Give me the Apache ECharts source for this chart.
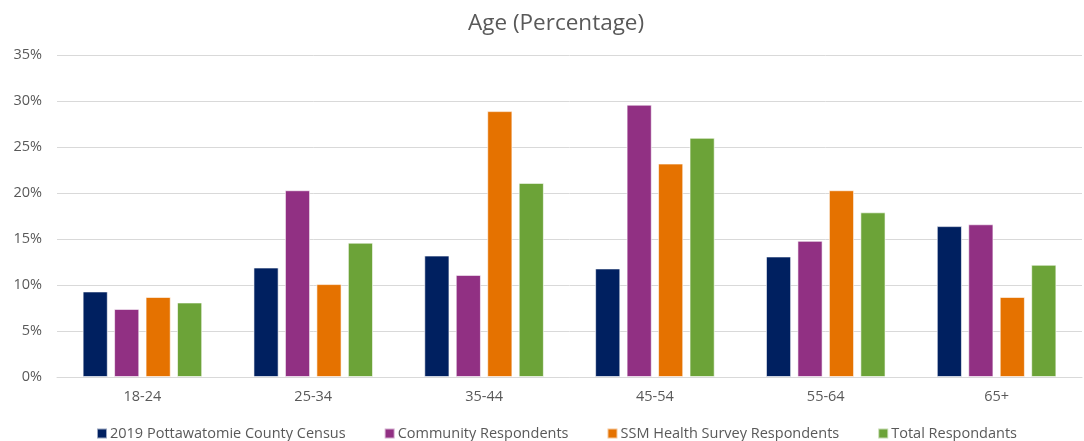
<!DOCTYPE html>
<html>
<head>
<meta charset="utf-8">
<script src="https://cdn.jsdelivr.net/npm/echarts@6/dist/echarts.min.js"></script>
<style>
  html, body { margin: 0; padding: 0; background: #fff; }
  #chart { width: 1084px; height: 441px; }
</style>
</head>
<body>
<div id="chart"></div>
<script>
// Age groups on the category axis
const categories = ['18-24', '25-34', '35-44', '45-54', '55-64', '65+'];

// Share of each group, in percent
const census2019 = [9.3, 11.9, 13.2, 11.8, 13.1, 16.4];
const community = [7.4, 20.3, 11.1, 29.6, 14.8, 16.6];
const ssmHealth = [8.7, 10.1, 28.9, 23.2, 20.3, 8.7];
const totalResp = [8.1, 14.6, 21.1, 26.0, 17.9, 12.2];

const seriesNames = [
  '2019 Pottawatomie County Census',
  'Community Respondents',
  'SSM Health Survey Respondents',
  'Total Respondants'
];
const seriesData = [census2019, community, ssmHealth, totalResp];
const colors = ['#002060', '#913083', '#E57200', '#6CA338'];

const font = '"Open Sans", sans-serif';
const textGray = '#595959';

const chart = echarts.init(document.getElementById('chart'));
chart.setOption({
  animation: false,
  color: colors,
  title: {
    text: 'Age (Percentage)',
    left: 463,
    top: 7,
    textStyle: { fontFamily: font, fontSize: 22.5, fontWeight: 'normal', color: textGray }
  },
  grid: { left: 57, right: 2, top: 55, bottom: 64 },
  legend: {
    top: 421,
    left: 91,
    itemWidth: 10,
    itemHeight: 10,
    itemGap: 38,
    icon: 'rect',
    textStyle: { fontFamily: font, fontSize: 14.5, color: textGray, padding: [0, 0, 0, -2] }
  },
  xAxis: {
    type: 'category',
    data: categories,
    axisTick: { show: false },
    axisLine: { lineStyle: { color: '#D9D9D9' } },
    axisLabel: { fontFamily: font, fontSize: 14.5, color: textGray, margin: 12 }
  },
  yAxis: {
    type: 'value',
    min: 0,
    max: 35,
    interval: 5,
    axisLabel: {
      formatter: '{value}%',
      fontFamily: font,
      fontSize: 14.5,
      color: textGray,
      margin: 15
    },
    splitLine: { lineStyle: { color: '#D9D9D9' } }
  },
  series: seriesNames.map((name, i) => ({
    name,
    type: 'bar',
    data: seriesData[i],
    barGap: '25%',
    barCategoryGap: '30%',
    itemStyle: { borderColor: 'rgba(255,255,255,0.6)', borderWidth: 1 }
  }))
});
</script>
</body>
</html>
